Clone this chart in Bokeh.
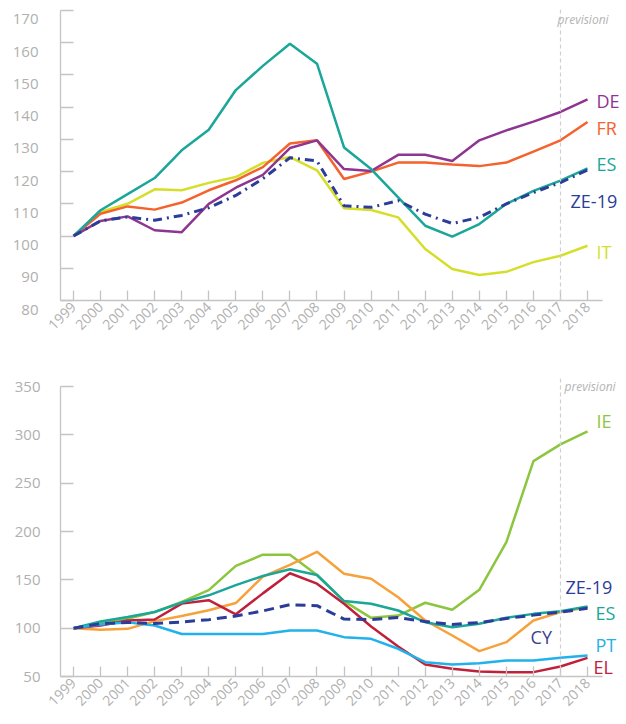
from bokeh.plotting import figure
from bokeh.layouts import column
from bokeh.models import Range1d, FixedTicker, Span, Label
from bokeh.embed import file_html
from bokeh.resources import INLINE
import math

years = list(range(1999, 2019))
year_labels = [str(y) for y in years]
forecast_start = 2017

# --- top chart ---
top_series = {
    "DE": [100, 104.7, 106.1, 101.8, 101.2, 110, 115, 119, 127.3, 129.7,
           120.8, 120.2, 125.2, 125.2, 123.3, 129.7, 132.8, 135.5, 138.5, 142.4],
    "FR": [100, 106.9, 109.2, 108.2, 110.4, 114.2, 117.3, 121.4, 128.7, 129.7,
           117.7, 120.0, 122.8, 122.8, 122.2, 121.7, 122.8, 126.2, 129.7, 135.4],
    "ES": [100, 108, 113, 118, 126.6, 133, 145.3, 152.8, 159.7, 153.5,
           127.5, 120.8, 112, 103.2, 99.8, 103.7, 110, 114, 117.2, 121],
    "IT": [100, 107.5, 110, 114.5, 114.2, 116.5, 118.3, 122.7, 124.5, 120.4,
           108.6, 108.1, 105.8, 96, 89.8, 87.9, 88.9, 91.9, 93.9, 97],
}
ze19 = [100, 104.7, 105.9, 104.9, 106.4, 108.8, 112.6, 117.8, 124.3, 123.3,
        109.4, 108.9, 111, 106.8, 103.9, 105.8, 110, 113.5, 116.6, 120.5]

# --- bottom chart ---
bottom_series = {
    "IE": [100, 105.2, 109.8, 116.7, 127.2, 139.4, 164.5, 176, 176, 155,
           128, 110.7, 113, 126.3, 119, 139.7, 189, 272.8, 290.2, 303.6],
    "ES": [100, 107, 111.5, 116.7, 126.5, 134, 144.6, 154, 161, 155,
           128, 125.3, 118.3, 106.2, 101, 104.5, 110.7, 114.8, 117.6, 122.5],
    "CY": [100, 98.3, 99.3, 107.3, 112.5, 118.5, 126, 153.3, 165.5, 179,
           156.3, 151.1, 132, 108, 92.4, 76.2, 85.5, 108, 116.6, 121.7],
    "EL": [100, 102.8, 108, 109, 125.4, 129, 114.3, 136, 156.8, 146,
           125.2, 101.8, 81, 62.4, 58, 55.2, 54.5, 54.5, 60.4, 69.3],
    "PT": [100, 103.8, 106, 102.8, 94, 94, 94, 94, 97.6, 97.6,
           90.7, 89, 78.7, 64.8, 62.4, 63.8, 66.6, 66.6, 69.3, 71.7],
}

colors = {
    "DE": "#8e3591", "FR": "#f4622d", "ES": "#1aa698", "IT": "#d5df2a",
    "ZE": "#2b3c99", "IE": "#8cc63e", "CY": "#f7a13b", "EL": "#c1203a",
    "PT": "#22b1ea",
}

AXIS = "#c4c4c4"
TICKTXT = "#b0b0b0"
FONT = "Open Sans"

X0, X1 = 1998.52, 2018.55   # extent of the drawn x axis
XEND = 2019.44              # frame extends to the right edge for the labels


def base_fig(height, y0, y1, yend, ystep, bt, bb, lab_standoff, drop_labels, margin):
    p = figure(width=626, height=height, output_backend="svg", toolbar_location=None,
               x_range=Range1d(X0, XEND), y_range=Range1d(y0, yend),
               min_border_left=60, min_border_right=0,
               min_border_top=bt, min_border_bottom=bb, margin=margin)
    p.outline_line_color = None
    p.xgrid.visible = False
    p.ygrid.visible = False
    p.background_fill_color = "white"
    p.border_fill_color = "white"
    p.xaxis.ticker = FixedTicker(ticks=years)
    p.xaxis.major_label_overrides = {y: s for y, s in zip(years, year_labels)}
    p.xaxis.major_label_orientation = math.pi / 4
    p.xaxis.bounds = (X0, X1)
    yticks = list(range(y0, y1 + 1, ystep))
    p.yaxis.bounds = (y0, y1)
    p.yaxis.ticker = FixedTicker(ticks=yticks)
    for ax in (p.xaxis, p.yaxis):
        ax.axis_line_color = AXIS
        ax.axis_line_width = 1.3
        ax.major_tick_line_color = AXIS
        ax.major_tick_line_width = 1.3
        ax.minor_tick_line_color = None
        ax.major_tick_out = 0
        ax.major_label_text_color = TICKTXT
        ax.major_label_text_font = FONT
    p.xaxis.major_tick_in = 10
    p.yaxis.major_tick_in = 13
    p.xaxis.major_label_text_font_size = "14px"
    p.xaxis.major_label_standoff = 4
    p.yaxis.major_label_text_font_size = "15px"
    p.yaxis.major_label_standoff = lab_standoff
    if drop_labels:
        # labels sit a little below their ticks, as in the original
        p.yaxis.major_label_overrides = {v: "\n" + str(v) for v in yticks}
        p.yaxis.major_label_text_line_height = 0.8
    p.add_layout(Span(location=forecast_start, dimension="height",
                      line_color="#cfcfcf", line_dash="4 3", line_width=1.2))
    return p


def label(p, txt, x, y, xoff, color, size="18px"):
    p.add_layout(Label(x=x, y=y, text=txt, x_offset=xoff, text_color=color,
                       text_font=FONT, text_font_size=size,
                       text_baseline="middle", text_align="left"))


# top
p1 = base_fig(380, 80, 170, 170.3, 10, 19, 70, 22, True, (-10, 0, 0, 0))
for name in ["IT", "FR", "DE", "ES"]:
    p1.line(years, top_series[name], line_color=colors[name], line_width=2.5)
p1.line(years, ze19, line_color=colors["ZE"], line_width=3, line_dash="9 5 2 5")
p1.add_layout(Label(x=forecast_start, y=170, text="previsioni", x_offset=-3, y_offset=-9,
                    text_color="#b4b4b4", text_font=FONT, text_font_size="12px",
                    text_font_style="italic", text_baseline="middle"))
label(p1, "DE", 2018, 142, 9, colors["DE"])
label(p1, "FR", 2018, 133.6, 9, colors["FR"])
label(p1, "ES", 2018, 122.4, 9, colors["ES"])
label(p1, "ZE-19", 2018, 111, -17, colors["ZE"])
label(p1, "IT", 2018, 94.9, 9, colors["IT"])

# bottom
p2 = base_fig(350, 50, 350, 358.3, 50, 8, 44, 20, False, (0, 0, 0, 0))
for name in ["IE", "CY", "EL", "ES", "PT"]:
    p2.line(years, bottom_series[name], line_color=colors[name], line_width=2.5)
p2.line(years, ze19, line_color=colors["ZE"], line_width=3, line_dash="10 6")
p2.add_layout(Label(x=forecast_start, y=350, text="previsioni", x_offset=4, y_offset=0,
                    text_color="#b4b4b4", text_font=FONT, text_font_size="12px",
                    text_font_style="italic", text_baseline="middle"))
label(p2, "IE", 2018, 314, 9, colors["IE"])
label(p2, "ZE-19", 2018, 143, -22, colors["ZE"])
label(p2, "ES", 2018, 115.5, 8, colors["ES"])
label(p2, "CY", 2018, 90.4, -57, "#3b3f8e")
label(p2, "PT", 2018, 83, 8, colors["PT"])
label(p2, "EL", 2018, 59.6, 6, colors["EL"])

layout = column(p1, p2, spacing=0)
open("out.html", "w").write(file_html(layout, INLINE))
